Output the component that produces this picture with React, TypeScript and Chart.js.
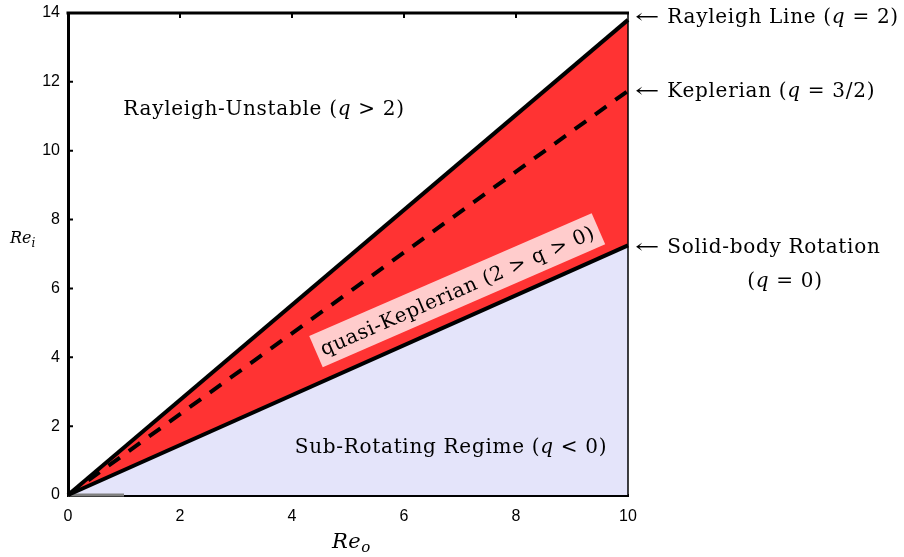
import React, { useEffect, useRef } from 'react';
import { Chart, registerables } from 'chart.js';

Chart.register(...registerables);

// ---- data ----
const reOuter = [0, 10];
const rayleighRe = [0, 13.8];
const keplerianRe = [0, 11.74];
const solidBodyRe = [0, 7.25];
const grayRefX = [0, 1];
const grayRefY = [0, 0];
const xTickValues = [0, 2, 4, 6, 8, 10];
const yTickValues = [0, 2, 4, 6, 8, 10, 12, 14];

const SERIF = '"DejaVu Serif", "Liberation Serif", serif';
const SANS = '"Liberation Sans", Arial, sans-serif';

type Run = { t: string; it?: boolean; size?: number; dy?: number; sx?: number };

function drawRich(ctx: CanvasRenderingContext2D, runs: Run[], x: number, y: number, size: number, align: 'left' | 'center' = 'left', spacing = 0.7) {
  const fontFor = (r: Run) => `${r.it ? 'italic ' : ''}${r.size || size}px ${SERIF}`;
  (ctx as any).letterSpacing = `${spacing}px`;
  let total = 0;
  for (const r of runs) {
    ctx.font = fontFor(r);
    total += ctx.measureText(r.t).width * (r.sx || 1);
  }
  let cx = align === 'center' ? x - total / 2 : x;
  ctx.textBaseline = 'alphabetic';
  ctx.textAlign = 'left';
  for (const r of runs) {
    ctx.font = fontFor(r);
    const w = ctx.measureText(r.t).width * (r.sx || 1);
    if (r.sx) {
      ctx.save();
      ctx.translate(cx, y + (r.dy || 0));
      ctx.scale(r.sx, 1);
      ctx.fillText(r.t, 0, 0);
      ctx.restore();
    } else {
      ctx.fillText(r.t, cx, y + (r.dy || 0));
    }
    cx += w;
  }
  (ctx as any).letterSpacing = '0px';
  return total;
}

const annotPlugin = {
  id: 'annot',
  afterDraw(chart: any) {
    const { ctx, chartArea: a, scales } = chart;
    const xs = scales.x;
    const ys = scales.y;
    ctx.save();
    ctx.strokeStyle = '#000';
    // top and right borders
    ctx.lineWidth = 3;
    ctx.beginPath();
    ctx.moveTo(a.left - 1.5, a.top);
    ctx.lineTo(a.right + 1, a.top);
    ctx.stroke();
    ctx.lineWidth = 1.5;
    ctx.beginPath();
    ctx.moveTo(a.right, a.top);
    ctx.lineTo(a.right, a.bottom);
    ctx.stroke();
    // inward ticks
    ctx.lineWidth = 2;
    ctx.beginPath();
    for (const v of xTickValues) {
      if (v === xTickValues[0] || v === xTickValues[xTickValues.length - 1]) continue;
      const px = xs.getPixelForValue(v);
      ctx.moveTo(px, a.top);
      ctx.lineTo(px, a.top + 5);
    }
    for (const v of yTickValues) {
      if (v === yTickValues[0] || v === yTickValues[yTickValues.length - 1]) continue;
      const py = ys.getPixelForValue(v);
      ctx.moveTo(a.left, py);
      ctx.lineTo(a.left + 5, py);
    }
    ctx.stroke();

    ctx.fillStyle = '#000';
    const fs = 20;
    // region labels
    drawRich(ctx, [{ t: 'Rayleigh-Unstable (' }, { t: 'q', it: true }, { t: ' > 2)' }], xs.getPixelForValue(3.5), ys.getPixelForValue(11.04), fs, 'center');
    drawRich(ctx, [{ t: 'Sub-Rotating Regime (' }, { t: 'q', it: true }, { t: ' < 0)' }], xs.getPixelForValue(6.84), ys.getPixelForValue(1.22), fs, 'center');

    // right-hand labels
    const rx = a.right + 7;
    const last = reOuter.length - 1;
    const arrow: Run = { t: '\u2190', sx: 1.45 };
    drawRich(ctx, [arrow, { t: ' Rayleigh Line (' }, { t: 'q', it: true }, { t: ' = 2)' }], rx, ys.getPixelForValue(rayleighRe[last]) + 3, fs);
    drawRich(ctx, [arrow, { t: ' Keplerian (' }, { t: 'q', it: true }, { t: ' = 3/2)' }], rx, ys.getPixelForValue(keplerianRe[last]) + 6, fs);
    drawRich(ctx, [arrow, { t: ' Solid-body Rotation' }], rx, ys.getPixelForValue(solidBodyRe[last]) + 8, fs);
    drawRich(ctx, [{ t: '(' }, { t: 'q', it: true }, { t: ' = 0)' }], rx + 150, ys.getPixelForValue(solidBodyRe[last]) + 42, fs, 'center');

    // axis titles
    drawRich(ctx, [{ t: 'Re', it: true }, { t: 'i', it: true, size: 12, dy: 4 }], 10, 243, 16, 'left', 0);
    drawRich(ctx, [{ t: 'Re', it: true }, { t: 'o', it: true, size: 15, dy: 4 }], 332, 548, 21, 'left', 0.5);

    // rotated quasi-Keplerian label
    const cxp = xs.getPixelForValue(6.95);
    const cyp = ys.getPixelForValue(5.95);
    ctx.translate(cxp, cyp);
    ctx.rotate(-23.5 * Math.PI / 180);
    ctx.fillStyle = '#ffcccc';
    ctx.fillRect(-154, -17, 308, 34);
    ctx.fillStyle = '#000';
    drawRich(ctx, [{ t: 'quasi-Keplerian (2 > q > 0)' }], 0, 7, fs, 'center');
    ctx.restore();
  },
};

export default function App() {
  const ref = useRef<HTMLCanvasElement | null>(null);
  useEffect(() => {
    if (!ref.current) return;
    const pts = (ys: number[]) => reOuter.map((x, i) => ({ x, y: ys[i] }));
    const chart = new Chart(ref.current, {
      type: 'line',
      data: {
        datasets: [
          {
            label: 'Solid-body Rotation',
            data: pts(solidBodyRe),
            borderColor: '#000',
            borderWidth: 4,
            backgroundColor: '#e4e4fa',
            fill: 'origin',
            pointRadius: 0,
            clip: false,
          } as any,
          {
            label: 'Rayleigh Line',
            data: pts(rayleighRe),
            borderColor: '#000',
            borderWidth: 4,
            backgroundColor: '#ff3333',
            fill: 0,
            pointRadius: 0,
            clip: false,
          },
          {
            label: 'Keplerian',
            data: pts(keplerianRe),
            borderColor: '#000',
            borderWidth: 4,
            borderDash: [14, 11],
            fill: false,
            pointRadius: 0,
            clip: false,
          },
          {
            label: 'ref',
            data: grayRefX.map((x, i) => ({ x, y: grayRefY[i] })),
            borderColor: '#808080',
            borderWidth: 3,
            fill: false,
            pointRadius: 0,
            clip: false,
          },
        ],
      },
      options: {
        responsive: false,
        animation: false,
        events: [],
        layout: { padding: { top: 13, right: 276, left: 0, bottom: 0 } },
        plugins: {
          legend: { display: false },
          tooltip: { enabled: false },
          filler: { drawTime: 'beforeDatasetsDraw' } as any,
        },
        scales: {
          x: {
            type: 'linear',
            min: 0,
            max: 10,
            afterBuildTicks: (s: any) => { s.ticks = xTickValues.map((v) => ({ value: v })); },
            afterFit: (s: any) => { s.height = 62; s.paddingLeft = 0; s.paddingRight = 0; },
            grid: { display: false, drawTicks: false },
            border: { display: true, color: '#000', width: 3 },
            ticks: { color: '#000', font: { family: SANS, size: 16 }, padding: 12, maxRotation: 0 },
          },
          y: {
            type: 'linear',
            min: 0,
            max: 14,
            afterBuildTicks: (s: any) => { s.ticks = yTickValues.map((v) => ({ value: v })); },
            afterFit: (s: any) => { s.width = 68; s.paddingTop = 0; s.paddingBottom = 0; },
            grid: { display: false, drawTicks: false },
            border: { display: true, color: '#000', width: 3 },
            ticks: { color: '#000', font: { family: SANS, size: 16 }, padding: 8 },
          },
        },
      },
      plugins: [annotPlugin],
    });
    return () => chart.destroy();
  }, []);
  return (
    <div style={{ position: 'fixed', left: 0, top: 0, width: 904, height: 557, background: '#fff' }}>
      <canvas ref={ref} width={904} height={557} style={{ width: 904, height: 557, display: 'block' }} />
    </div>
  );
}
